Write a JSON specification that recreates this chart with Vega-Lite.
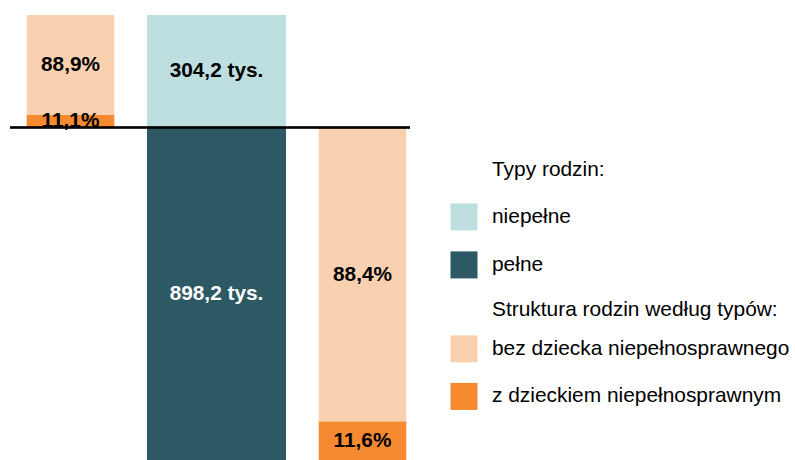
{
  "$schema": "https://vega.github.io/schema/vega-lite/v6.json",
  "width": 400,
  "height": 445,
  "autosize": {"type": "none"},
  "padding": {"left": 10, "top": 15, "right": 385, "bottom": 0},
  "background": "white",
  "config": {"view": {"stroke": null}, "font": "Liberation Sans"},
  "data": {
    "values": [
      {"kolumna": "struktura niepełnych", "grupa": "struktura", "kategoria": "z dzieckiem niepełnosprawnym", "od": 0, "do": 33.8, "etykieta": "11,1%"},
      {"kolumna": "struktura niepełnych", "grupa": "struktura", "kategoria": "bez dziecka niepełnosprawnego", "od": 33.8, "do": 304.2, "etykieta": "88,9%"},
      {"kolumna": "typy", "grupa": "typ", "kategoria": "niepełne", "od": 0, "do": 304.2, "etykieta": "304,2 tys."},
      {"kolumna": "typy", "grupa": "typ", "kategoria": "pełne", "od": 0, "do": -898.2, "etykieta": "898,2 tys."},
      {"kolumna": "struktura pełnych", "grupa": "struktura", "kategoria": "bez dziecka niepełnosprawnego", "od": 0, "do": -794.0, "etykieta": "88,4%"},
      {"kolumna": "struktura pełnych", "grupa": "struktura", "kategoria": "z dzieckiem niepełnosprawnym", "od": -794.0, "do": -898.2, "etykieta": "11,6%"}
    ]
  },
  "layer": [
    {
      "transform": [{"filter": "datum.grupa == 'typ'"}],
      "mark": {"type": "bar", "width": {"band": 0.952}},
      "encoding": {
        "x": {"field": "kolumna", "type": "nominal", "scale": {"type": "band", "domain": ["struktura niepełnych", "typy", "struktura pełnych"], "range": [-12.5, 425.5], "paddingInner": 0, "paddingOuter": 0}, "axis": null},
        "y": {"field": "od", "type": "quantitative", "scale": {"domain": [-898.2, 304.2], "nice": false, "zero": false}, "axis": null},
        "y2": {"field": "do"},
        "color": {
          "field": "kategoria", "type": "nominal",
          "scale": {"domain": ["niepełne", "pełne"], "range": ["#bddfe0", "#2d5964"]},
          "legend": {
            "title": "Typy rodzin:", "orient": "none", "direction": "vertical", "legendX": 482, "legendY": 143.5,
            "symbolType": "square", "symbolSize": 729, "symbolStrokeWidth": 0, "symbolOffset": -41.5, "labelOffset": 14.5,
            "rowPadding": 21, "titlePadding": 24,
            "titleFont": "Liberation Sans", "titleFontSize": 20.9, "titleFontWeight": "normal", "titleColor": "black", "titleLimit": 400,
            "labelFont": "Liberation Sans", "labelFontSize": 20.9, "labelColor": "black", "labelLimit": 400
          }
        }
      }
    },
    {
      "transform": [{"filter": "datum.grupa == 'struktura'"}],
      "mark": {"type": "bar", "width": {"band": 0.6}},
      "encoding": {
        "x": {"field": "kolumna", "type": "nominal", "scale": {"type": "band", "domain": ["struktura niepełnych", "typy", "struktura pełnych"], "range": [-12.5, 425.5], "paddingInner": 0, "paddingOuter": 0}, "axis": null},
        "y": {"field": "od", "type": "quantitative", "scale": {"domain": [-898.2, 304.2], "nice": false, "zero": false}, "axis": null},
        "y2": {"field": "do"},
        "color": {
          "field": "kategoria", "type": "nominal",
          "scale": {"domain": ["bez dziecka niepełnosprawnego", "z dzieckiem niepełnosprawnym"], "range": ["#fad1b0", "#f58a31"]},
          "legend": {
            "title": "Struktura rodzin według typów:", "orient": "none", "direction": "vertical", "legendX": 482, "legendY": 283.5,
            "symbolType": "square", "symbolSize": 729, "symbolStrokeWidth": 0, "symbolOffset": -41.5, "labelOffset": 14.5,
            "rowPadding": 20.5, "titlePadding": 16,
            "titleFont": "Liberation Sans", "titleFontSize": 20.9, "titleFontWeight": "normal", "titleColor": "black", "titleLimit": 400,
            "labelFont": "Liberation Sans", "labelFontSize": 20.9, "labelColor": "black", "labelLimit": 400
          }
        }
      }
    },
    {
      "mark": {"type": "rule", "color": "black", "strokeWidth": 1.5},
      "encoding": {"y": {"datum": 0, "type": "quantitative", "scale": {"domain": [-898.2, 304.2], "nice": false, "zero": false}, "axis": null}}
    },
    {
      "transform": [
        {"fold": ["od", "do"], "as": ["granica", "wartosc"]},
        {"aggregate": [{"op": "mean", "field": "wartosc", "as": "srodek"}], "groupby": ["kolumna", "kategoria", "etykieta"]}
      ],
      "mark": {"type": "text", "font": "Liberation Sans", "fontSize": 20.8, "fontWeight": "bold", "baseline": "middle", "align": "center"},
      "encoding": {
        "x": {"field": "kolumna", "type": "nominal", "scale": {"type": "band", "domain": ["struktura niepełnych", "typy", "struktura pełnych"], "range": [-12.5, 425.5], "paddingInner": 0, "paddingOuter": 0}, "axis": null},
        "y": {"field": "srodek", "type": "quantitative", "scale": {"domain": [-898.2, 304.2], "nice": false, "zero": false}, "axis": null},
        "text": {"field": "etykieta", "type": "nominal"},
        "color": {"condition": {"test": "datum.kategoria == 'pełne'", "value": "white"}, "value": "black"}
      }
    }
  ],
  "resolve": {"scale": {"color": "independent"}}
}
